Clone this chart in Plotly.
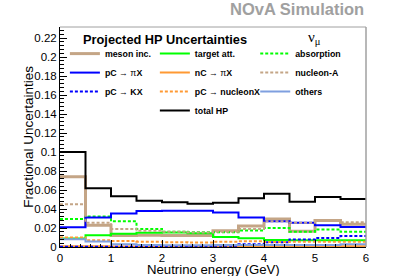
import plotly.graph_objects as go

# ---------------- data ----------------
bin_edges = [0.0, 0.5, 1.0, 1.5, 2.0, 2.5, 3.0, 3.5, 4.0, 4.5, 5.0, 5.5, 6.0]

meson_inc    = [0.074, 0.023, 0.012, 0.0125, 0.012, 0.012, 0.017, 0.022, 0.0295, 0.0165, 0.028, 0.024]
target_att   = [0.009, 0.0123, 0.014, 0.015, 0.0153, 0.0144, 0.0105, 0.0092, 0.0074, 0.0072, 0.007, 0.007]
absorption   = [0.0295, 0.032, 0.027, 0.019, 0.016, 0.0155, 0.0155, 0.0175, 0.020, 0.016, 0.0185, 0.016]
pC_piX       = [0.0207, 0.031, 0.0352, 0.038, 0.0382, 0.0382, 0.0362, 0.031, 0.027, 0.0255, 0.023, 0.021]
nC_piX       = [0.0008, 0.0007, 0.0006, 0.0006, 0.0005, 0.0005, 0.0005, 0.0006, 0.0006, 0.0006, 0.0007, 0.0007]
nucleon_A    = [0.045, 0.0256, 0.019, 0.017, 0.016, 0.0152, 0.016, 0.019, 0.027, 0.0255, 0.0275, 0.026]
pC_KX        = [0.0003, 0.0003, 0.0003, 0.0004, 0.0005, 0.0008, 0.0012, 0.0028, 0.005, 0.0078, 0.0095, 0.0115]
pC_nucleonX  = [0.010, 0.007, 0.0063, 0.0056, 0.005, 0.0048, 0.0056, 0.006, 0.0052, 0.0055, 0.0055, 0.0055]
others       = [0.0082, 0.0058, 0.003, 0.002, 0.0018, 0.0018, 0.002, 0.002, 0.002, 0.002, 0.002, 0.003]
total_HP     = [0.100, 0.0618, 0.0534, 0.0488, 0.047, 0.0456, 0.0467, 0.0514, 0.0561, 0.0477, 0.0526, 0.0505]

x_tick_vals = [0, 1, 2, 3, 4, 5, 6]
y_tick_vals = [0, 0.02, 0.04, 0.06, 0.08, 0.1, 0.12, 0.14, 0.16, 0.18, 0.2, 0.22]
y_tick_text = ["0", "0.02", "0.04", "0.06", "0.08", "0.1", "0.12", "0.14", "0.16", "0.18", "0.2", "0.22"]

# (name, values, color, width, dash, legend)
series = [
    ("<b>meson inc.</b>", meson_inc, "#c4a586", 3, "solid", "legend"),
    ("<b>target att.</b>", target_att, "#00ff00", 2, "solid", "legend2"),
    ("<b>absorption</b>", absorption, "#00ff00", 2, "3px,2px", "legend3"),
    ("<b>pC</b> → π<b>X</b>", pC_piX, "#0000ff", 2, "solid", "legend"),
    ("<b>nC</b> → π<b>X</b>", nC_piX, "#ff9933", 2, "solid", "legend2"),
    ("<b>nucleon-A</b>", nucleon_A, "#c4a586", 2, "3px,2px", "legend3"),
    ("<b>pC</b> → <b>KX</b>", pC_KX, "#0000ff", 2, "3px,2px", "legend"),
    ("<b>pC</b> → <b>nucleonX</b>", pC_nucleonX, "#ff9933", 2, "3px,2px", "legend2"),
    ("<b>others</b>", others, "#7f9fdf", 2, "solid", "legend3"),
    ("<b>total HP</b>", total_HP, "#000000", 2, "solid", "legend2"),
]

fig = go.Figure()
for name, vals, color, width, dash, leg in series:
    fig.add_trace(go.Scatter(
        x=bin_edges, y=list(vals) + [vals[-1]],
        mode="lines", line=dict(shape="hv", color=color, width=width, dash=dash),
        name=name, legend=leg, hoverinfo="skip",
    ))

FONT = "Liberation Sans, Arial, Helvetica, sans-serif"
leg_common = dict(bgcolor="rgba(0,0,0,0)", borderwidth=0, yanchor="top", xanchor="left",
                  font=dict(family=FONT, size=8.8, color="#000000"), tracegroupgap=0)

fig.update_layout(
    width=407, height=276,
    margin=dict(l=60, r=41, t=27, b=29, autoexpand=False),
    paper_bgcolor="white", plot_bgcolor="white",
    font=dict(family=FONT, color="#000000"),
    showlegend=True,
    legend=dict(x=0.016, y=0.945, **leg_common),
    legend2=dict(x=0.31, y=0.945, **leg_common),
    legend3=dict(x=0.638, y=0.945, **leg_common),
    xaxis=dict(
        range=[0, 6], tickvals=x_tick_vals, ticks="inside", ticklen=7, tickwidth=1,
        tickcolor="#000000", showline=True, linecolor="#000000", linewidth=1,
        showgrid=False, zeroline=False, tickfont=dict(size=11.5, family=FONT), automargin=False,
        minor=dict(dtick=0.2, ticks="inside", ticklen=3.5, tickcolor="#000000", showgrid=False),
    ),
    yaxis=dict(
        range=[0, 0.2316], tickvals=y_tick_vals, ticktext=y_tick_text, ticks="inside",
        ticklen=7, tickwidth=1, tickcolor="#000000", showline=True, linecolor="#000000",
        linewidth=1, showgrid=False, zeroline=False, tickfont=dict(size=11.5, family=FONT),
        automargin=False,
        minor=dict(dtick=0.004, ticks="inside", ticklen=3.5, tickcolor="#000000", showgrid=False),
    ),
    shapes=[
        dict(type="line", xref="paper", yref="paper", x0=0, x1=1, y0=1, y1=1,
             line=dict(color="#a0a0a0", width=1)),
        dict(type="line", xref="paper", yref="paper", x0=1, x1=1, y0=0, y1=1,
             line=dict(color="#a0a0a0", width=1.5)),
    ],
    annotations=[
        dict(text="<b>NOvA Simulation</b>", xref="paper", yref="paper", x=1, y=1.03,
             xanchor="right", yanchor="bottom", showarrow=False,
             font=dict(size=16.5, color="#a0a0a0", family=FONT)),
        dict(text="<b>Projected HP Uncertainties</b>", xref="paper", yref="paper",
             x=0.068, y=0.985, xanchor="left", yanchor="top", showarrow=False,
             font=dict(size=12.8, color="#000000", family=FONT)),
        dict(text="ν<sub>μ</sub>", xref="paper", yref="paper", x=0.805, y=0.998,
             xanchor="left", yanchor="top", showarrow=False,
             font=dict(size=15, color="#000000", family="Liberation Serif, Times New Roman, serif")),
        dict(text="Fractional Uncertainties", xref="paper", yref="paper", x=-0.105, y=0.5,
             xanchor="center", yanchor="middle", textangle=-90, showarrow=False,
             font=dict(size=13.5, color="#000000", family=FONT)),
        dict(text="Neutrino energy (GeV)", xref="paper", yref="paper", x=0.5, y=-0.104,
             xanchor="center", yanchor="middle", showarrow=False,
             font=dict(size=13.2, color="#000000", family=FONT)),
    ],
)

fig.write_html("out.html", config={"displayModeBar": False},
               post_script="document.body.style.margin='0';document.body.style.overflow='hidden';")
